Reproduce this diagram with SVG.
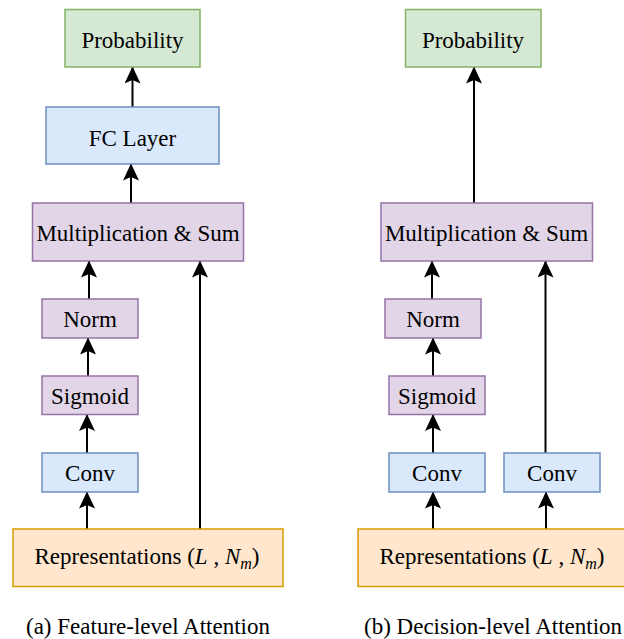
<svg xmlns="http://www.w3.org/2000/svg" width="624" height="639" viewBox="0 0 624 639" font-family="'Liberation Serif', 'Times New Roman', serif">
<style>
text{font-family:"Liberation Serif","Times New Roman",serif;font-size:23px;fill:#000;}
.c{text-anchor:middle;}
.g{fill:#d5e8d4;stroke:#82b366;stroke-width:1.5;}
.b{fill:#dae8fc;stroke:#6c8ebf;stroke-width:1.5;}
.p{fill:#e1d5e7;stroke:#9673a6;stroke-width:1.5;}
.o{fill:#ffe6cc;stroke:#d79b00;stroke-width:1.5;}
.e{stroke:#000;stroke-width:2;fill:none;marker-end:url(#ah);}
.i{font-style:italic;}
</style>
<defs>
<marker id="ah" viewBox="0 -8 17 16" refX="16.5" refY="0" markerWidth="17" markerHeight="16" markerUnits="userSpaceOnUse" orient="auto">
<path d="M0,-8 L17,0 L0,8 L3.5,0 Z" fill="#000"/>
</marker>
</defs>
<g id="connectors">
<line class="e" x1="132.5" y1="107" x2="132.5" y2="67"/>
<line class="e" x1="131" y1="203" x2="131" y2="164"/>
<line class="e" x1="89" y1="299" x2="89" y2="261"/>
<line class="e" x1="88" y1="376" x2="88" y2="338"/>
<line class="e" x1="87" y1="453" x2="87" y2="414.5"/>
<line class="e" x1="87" y1="529" x2="87" y2="492"/>
<line class="e" x1="200" y1="529" x2="200" y2="261"/>
<line class="e" x1="474" y1="203" x2="474" y2="67"/>
<line class="e" x1="432" y1="299" x2="432" y2="261"/>
<line class="e" x1="433" y1="376" x2="433" y2="338"/>
<line class="e" x1="433" y1="453" x2="433" y2="414.5"/>
<line class="e" x1="433" y1="529" x2="433" y2="492"/>
<line class="e" x1="546" y1="529" x2="546" y2="492"/>
<line class="e" x1="545.5" y1="453" x2="545.5" y2="261"/>
</g>
<g id="a-prob"><rect class="g" x="65" y="9.5" width="135" height="57.5"/><text class="c" x="132.5" y="47.5">Probability</text></g>
<g id="a-fc"><rect class="b" x="46" y="107" width="173" height="57"/><text class="c" x="132.5" y="145.5">FC Layer</text></g>
<g id="a-ms"><rect class="p" x="32.5" y="203" width="211" height="58"/><text class="c" x="138" y="241">Multiplication &amp; Sum</text></g>
<g id="a-norm"><rect class="p" x="42" y="299" width="96" height="39"/><text class="c" x="90" y="326.5">Norm</text></g>
<g id="a-sig"><rect class="p" x="42" y="376" width="96" height="38.5"/><text class="c" x="90" y="404">Sigmoid</text></g>
<g id="a-conv"><rect class="b" x="42" y="453" width="96" height="39"/><text class="c" x="90" y="481">Conv</text></g>
<g id="a-rep"><rect class="o" x="13" y="529" width="270" height="57.5"/><text class="c" x="147" y="564">Representations (<tspan class="i">L</tspan> , <tspan class="i">N</tspan><tspan class="i" font-size="16" dy="5">m</tspan><tspan dy="-5">)</tspan></text></g>
<g id="b-prob"><rect class="g" x="405.5" y="9.5" width="135.5" height="57.5"/><text class="c" x="473" y="47.5">Probability</text></g>
<g id="b-ms"><rect class="p" x="381" y="203" width="211.5" height="58"/><text class="c" x="486.5" y="241">Multiplication &amp; Sum</text></g>
<g id="b-norm"><rect class="p" x="385" y="299" width="96" height="39"/><text class="c" x="433" y="326.5">Norm</text></g>
<g id="b-sig"><rect class="p" x="389" y="376" width="96" height="38.5"/><text class="c" x="437" y="404">Sigmoid</text></g>
<g id="b-conv1"><rect class="b" x="389" y="453" width="96" height="39"/><text class="c" x="437" y="481">Conv</text></g>
<g id="b-conv2"><rect class="b" x="504" y="453" width="96" height="39"/><text class="c" x="552" y="481">Conv</text></g>
<g id="b-rep"><rect class="o" x="358" y="529" width="270" height="57.5"/><text class="c" x="492" y="564">Representations (<tspan class="i">L</tspan> , <tspan class="i">N</tspan><tspan class="i" font-size="16" dy="5">m</tspan><tspan dy="-5">)</tspan></text></g>
<text x="26" y="634">(a) Feature-level Attention</text>
<text x="364" y="634">(b) Decision-level Attention</text>
</svg>
